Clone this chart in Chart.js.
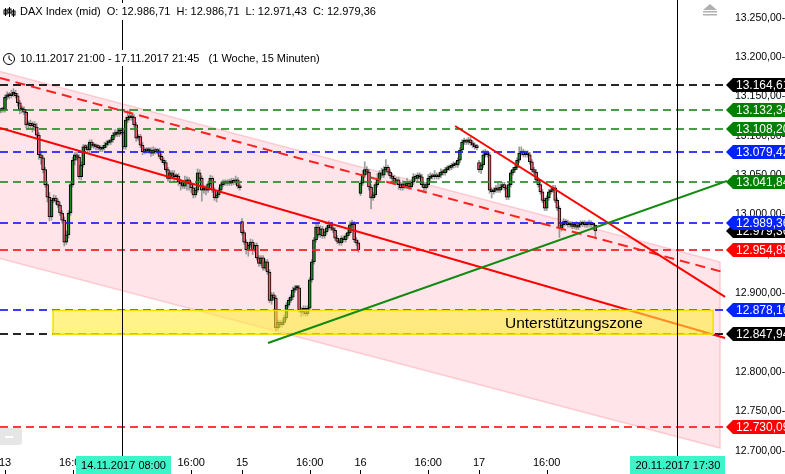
<!DOCTYPE html>
<html><head><meta charset="utf-8">
<script src="https://cdn.jsdelivr.net/npm/chart.js@4.4.0/dist/chart.umd.min.js"></script>
<style>html,body{margin:0;padding:0;background:#fff;overflow:hidden}</style>
</head><body><canvas id="c" width="785" height="474"></canvas>
<script>
// ---- DATA (15-min bars, index 0 = 10.11.2017 21:00) ----
const closes = [
13130,13132,13133,13133,
// 13.11
13149,13152,13151,13153,13154,13151,13142,13133,13134,13130,13114,13116,13113,13115,13111,13101,13076,13072,13057,13038,
13022,12997,13018,13021,13017,13012,13002,12993,12965,12974,13002,13038,13069,13076,13073,13048,13063,13086,13085,13082,
13092,13088,13087,13086,13085,13083,13085,13088,13091,13092,13095,13101,13104,13102,13107,13104,
// 14.11
13086,13120,13124,13123,13124,13114,13097,13099,13088,13080,13082,13081,13082,13078,13082,13080,13081,13074,13069,13066,
13057,13046,13053,13050,13048,13049,13041,13039,13036,13041,13044,13039,13034,13025,13031,13053,13046,13031,13034,13031,
13039,13046,13031,13021,13025,13031,13038,13041,13040,13041,13040,13043,13041,13044,13036,13034,
// 15.11
12977,12965,12955,12961,12965,12955,12961,12945,12938,12945,12932,12940,12927,12891,12898,12894,12856,12863,12860,12863,
12869,12885,12891,12895,12904,12907,12907,12879,12876,12881,12874,12881,12917,12940,12968,12984,12974,12982,12973,12978,
12983,12987,12983,12980,12970,12966,12964,12970,12968,12973,12977,12987,12988,12968,12964,12955,
// 16.11
13040,13050,13057,13054,13035,13021,13025,13038,13044,13053,13050,13057,13060,13054,13049,13046,13041,13044,13038,13034,
13039,13036,13040,13035,13041,13048,13046,13050,13048,13038,13034,13038,13046,13049,13048,13050,13048,13050,13054,13053,
13057,13059,13060,13062,13064,13063,13069,13082,13092,13093,13092,13095,13091,13088,13086,13085,
// 17.11
13057,13063,13076,13078,13076,13031,13029,13031,13034,13031,13035,13038,13034,13022,13038,13053,13057,13060,13069,13078,
13080,13076,13078,13076,13067,13057,13054,13044,13038,13029,13018,13008,13021,13029,13031,13034,13018,13008,12983,12987,
12991,12989,12987,12988,12985,12987,12984,12987,12988,12989,12987,12988,12989,12987,12986.71,12979.36
];
const gapIdx  = [0, 116, 172, 228];
const gapOpen = [13129, 12991, 13027, 13066];
const hiExt = [
3,3,2,3,
3,4,3,5,6,4,3,3,4,3,3,3,4,3,3,5,3,4,3,3,4,6,3,4,3,3,4,3,4,5,3,3,4,3,3,3,4,3,3,4,3,3,3,3,3,3,3,4,3,3,3,3,4,3,3,3,
3,4,8,10,4,3,3,3,3,4,3,3,3,3,4,3,3,3,3,3,3,3,3,3,6,3,3,3,3,8,4,3,3,3,4,5,4,3,3,3,3,4,3,3,3,3,3,3,3,3,4,3,3,5,3,3,
4,3,3,3,4,3,3,3,3,3,3,3,3,3,3,3,3,3,3,3,3,3,3,3,4,3,3,3,3,3,3,3,3,3,3,5,6,4,3,3,3,5,3,3,3,3,3,3,3,3,3,4,5,3,3,3,
3,6,10,4,3,3,3,3,8,3,6,4,10,3,3,3,4,3,3,3,4,3,6,3,3,4,3,3,3,3,3,3,5,4,3,6,3,3,4,3,3,3,3,3,3,3,3,3,3,4,3,3,3,3,3,3,
3,3,6,5,3,3,3,3,3,6,4,3,3,3,3,3,3,3,3,8,6,3,3,3,3,3,3,3,3,3,3,3,3,3,3,3,3,3,3,3,4,3,4,3,3,3,4,3,4,3,3,3,4,3,3,0
];
const loExt = [
3,3,3,3,
3,3,4,3,3,3,4,5,4,3,4,6,3,8,4,3,6,8,4,3,6,5,4,3,4,3,3,4,5,3,4,3,3,6,4,3,4,3,3,3,3,3,3,4,3,3,3,3,3,3,3,3,3,3,3,3,
3,3,3,3,3,3,4,3,3,4,3,3,3,4,3,3,3,3,3,3,3,4,3,5,6,3,4,8,3,3,10,8,6,4,3,3,3,14,4,6,3,3,3,3,5,3,3,3,3,3,3,3,3,3,3,3,
3,3,5,8,3,6,3,3,4,3,3,3,3,3,5,3,4,3,3,3,3,3,3,3,3,3,3,3,6,4,3,3,3,3,3,3,3,3,3,3,3,3,3,3,3,3,3,3,3,3,3,3,3,3,3,3,
3,3,3,3,4,14,3,3,3,3,3,3,3,3,3,4,3,3,6,3,3,3,3,3,3,3,3,3,3,3,6,3,3,3,3,3,3,3,3,3,3,3,3,3,3,3,3,3,3,3,3,3,3,3,3,3,
3,5,3,3,3,4,8,3,3,3,3,3,3,3,3,3,3,3,3,3,3,3,3,3,3,3,3,3,3,3,3,3,3,3,3,3,3,3,12,4,3,3,3,3,3,3,3,3,3,3,3,3,3,3,6,7.93
];
const xTickIdx  = [4, 36, 92, 116, 148, 172, 204, 228, 260];
const xTickText = ["13","16:00","16:00","15","16:00","16","16:00","17","16:00"];
const yTickVals = [12700,12750,12800,12850,12900,12950,13000,13050,13100,13150,13200,13250];
const hLineVals   = [13164.61,13132.34,13108.20,13079.42,13041.84,12989.36,12954.85,12878.16,12847.94,12730.09];
const hLineColors = ['#000','#2a8a2a','#2a8a2a','#1a1aff','#2a8a2a','#1a1aff','#ff1a1a','#1a1aff','#000','#ff1a1a'];
const tagVals   = [13164.61,13132.34,13108.20,13079.42,13041.84,12979.36,12989.36,12954.85,12878.16,12847.94,12730.09];
const tagColors = ['#000','#008000','#008000','#0022ff','#008000','#000','#0022ff','#ff0000','#0022ff','#000','#ff0000'];
const chanTop  = [[1.64,13182.4],[341.9,12939.7]];
const chanBot  = [[1.64,12944.8],[341.9,12703.4]];
const redDash  = [[1.64,13173.5],[342.8,12927.3]];
const redMid   = [[1.64,13110.0],[344.3,12843.2]];
const redShort = [[216.7,13112.5],[344.3,12895.3]];
const greenUp  = [[128.3,12836.8],[345.2,13042.6]];
const zoneX = [26.7, 338.6];
const zoneY = [12847.94, 12878.16];
const zoneLabel = "Unterstützungszone";
const markIdx  = [60, 322];
const markText = ["14.11.2017 08:00", "20.11.2017 17:30"];
const header1 = "DAX Index (mid)  O: 12.986,71  H: 12.986,71  L: 12.971,43  C: 12.979,36";
const header2 = "10.11.2017 21:00 - 17.11.2017 21:45   (1 Woche, 15 Minuten)";

// ---- build OHLC ----
const opens = closes.map((c,i)=>{ const g=gapIdx.indexOf(i); return g>=0 ? gapOpen[g] : closes[i-1]; });
const bodyData = closes.map((c,i)=>({x:i, y:[opens[i], c]}));
const wickData = closes.map((c,i)=>({x:i, y:[Math.min(opens[i],c)-loExt[i], Math.max(opens[i],c)+hiExt[i]]}));
const bodyColors = closes.map((c,i)=> c>=opens[i] ? '#1e8a24' : '#ef5f6f');

function fmtDE(v){ const [a,b]=v.toFixed(2).split('.'); return a.replace(/\B(?=(\d{3})+(?!\d))/g,'.')+','+b; }
const FONT = 'Arial, "Liberation Sans", sans-serif';
const noPad = s=>{ s.paddingTop=0; s.paddingBottom=0; s.paddingLeft=0; s.paddingRight=0; };

const overlay = {
  id:'overlay',
  beforeDatasetsDraw(chart){
    const {ctx, chartArea:a} = chart, xs=chart.scales.x, ys=chart.scales.y;
    const P = p=>[xs.getPixelForValue(p[0]), ys.getPixelForValue(p[1])];
    ctx.save(); ctx.beginPath(); ctx.rect(a.left,a.top,a.right-a.left,a.bottom-a.top); ctx.clip();
    const t0=P(chanTop[0]), t1=P(chanTop[1]), b0=P(chanBot[0]), b1=P(chanBot[1]);
    ctx.beginPath(); ctx.moveTo(t0[0]-2,t0[1]); ctx.lineTo(t1[0],t1[1]); ctx.lineTo(b1[0],b1[1]); ctx.lineTo(b0[0]-2,b0[1]); ctx.closePath();
    ctx.fillStyle='rgba(255,160,175,0.28)'; ctx.fill();
    ctx.strokeStyle='rgba(255,150,165,0.45)'; ctx.lineWidth=1.5;
    ctx.beginPath(); ctx.moveTo(t0[0]-2,t0[1]); ctx.lineTo(t1[0],t1[1]); ctx.lineTo(b1[0],b1[1]); ctx.lineTo(b0[0]-2,b0[1]); ctx.stroke();
    ctx.restore();
  },
  afterDraw(chart){
    const {ctx, chartArea:a} = chart, xs=chart.scales.x, ys=chart.scales.y;
    const P = p=>[xs.getPixelForValue(p[0]), ys.getPixelForValue(p[1])];
    const line=(seg,color,w,dash)=>{ const p0=P(seg[0]),p1=P(seg[1]); ctx.beginPath(); ctx.setLineDash(dash||[]); ctx.strokeStyle=color; ctx.lineWidth=w; ctx.moveTo(p0[0],p0[1]); ctx.lineTo(p1[0],p1[1]); ctx.stroke(); ctx.setLineDash([]); };
    ctx.save();
    ctx.beginPath(); ctx.rect(a.left,a.top,a.right-a.left,a.bottom-a.top); ctx.clip();
    hLineVals.forEach((v,k)=>{ const y=Math.round(ys.getPixelForValue(v)); ctx.globalAlpha=0.85; ctx.beginPath(); ctx.setLineDash([8,5]); ctx.strokeStyle=hLineColors[k]; ctx.lineWidth=2; ctx.moveTo(a.left,y); ctx.lineTo(a.right,y); ctx.stroke(); ctx.setLineDash([]); ctx.globalAlpha=1; });
    line(redDash,'#ff2020',2,[10,6]);
    line(redMid,'#ff0000',2);
    line(redShort,'#ff0000',2);
    const zx0=xs.getPixelForValue(zoneX[0]), zx1=xs.getPixelForValue(zoneX[1]);
    const zy0=ys.getPixelForValue(zoneY[1]), zy1=ys.getPixelForValue(zoneY[0]);
    ctx.fillStyle='rgba(255,235,60,0.6)'; ctx.fillRect(zx0,zy0,zx1-zx0,zy1-zy0);
    ctx.strokeStyle='#f2e000'; ctx.lineWidth=1.5; ctx.strokeRect(zx0,zy0,zx1-zx0,zy1-zy0);
    ctx.fillStyle='#000'; ctx.font='15.5px '+FONT; ctx.textBaseline='middle'; ctx.textAlign='left';
    ctx.fillText(zoneLabel, 505, (zy0+zy1)/2+1);
    line(greenUp,'#128a12',2);
    ctx.restore();
    ctx.save();
    markIdx.forEach(v=>{ const x=Math.round(xs.getPixelForValue(v))-0.5; ctx.beginPath(); ctx.strokeStyle='#000'; ctx.lineWidth=1; ctx.moveTo(x,0); ctx.lineTo(x,474); ctx.stroke(); });
    ctx.font='11px '+FONT; ctx.textBaseline='middle'; ctx.textAlign='left';
    const w1=ctx.measureText(header1).width, w2=ctx.measureText(header2).width;
    ctx.fillStyle='#fff'; ctx.fillRect(0,3,22+w1,17); ctx.fillRect(0,50,22+w2,16);
    ctx.fillStyle='#000'; ctx.fillText(header1,20,12); ctx.fillText(header2,20,59);
    ctx.strokeStyle='#000'; ctx.lineWidth=1;
    [[5,8,16],[9,7,17],[13,9,17]].forEach(([x,y0,y1])=>{ ctx.beginPath(); ctx.moveTo(x+0.5,y0); ctx.lineTo(x+0.5,y1); ctx.stroke(); ctx.strokeRect(x-1,y0+2,3,4); });
    ctx.beginPath(); ctx.arc(9,59,5.5,0,Math.PI*2); ctx.stroke();
    ctx.beginPath(); ctx.moveTo(9,55.5); ctx.lineTo(9,59); ctx.lineTo(12,61); ctx.stroke();
    ctx.font='12px '+FONT;
    tagVals.forEach((v,k)=>{ const y=Math.round(ys.getPixelForValue(v)); const L=a.right-1, R=785, h=7;
      ctx.fillStyle=tagColors[k]; ctx.beginPath(); ctx.moveTo(L,y); ctx.lineTo(L+7,y-h); ctx.lineTo(R,y-h); ctx.lineTo(R,y+h); ctx.lineTo(L+7,y+h); ctx.closePath(); ctx.fill();
      ctx.fillStyle='#fff'; ctx.fillText(fmtDE(v), L+10, y+0.5); });
    ctx.strokeStyle='#000'; ctx.lineWidth=1;
    xTickIdx.forEach(v=>{ const x=Math.round(xs.getPixelForValue(v))+0.5; ctx.beginPath(); ctx.moveTo(x,470); ctx.lineTo(x,474); ctx.stroke(); });
    ctx.font='11px '+FONT; ctx.textAlign='center';
    markIdx.forEach((v,k)=>{ const x=xs.getPixelForValue(v); const w=ctx.measureText(markText[k]).width+10;
      ctx.fillStyle='#3cf5c8'; ctx.fillRect(Math.round(x-w/2),456,Math.round(w),18);
      ctx.fillStyle='#000'; ctx.fillText(markText[k], x, 465.5); });
    ctx.fillStyle='#b0b0b0'; ctx.beginPath(); ctx.moveTo(703,10); ctx.lineTo(710,4); ctx.lineTo(717,10); ctx.closePath(); ctx.fill();
    ctx.fillRect(703,11,14,1.5); ctx.fillRect(703,14,14,1.5);
    ctx.fillStyle='#e6e6e6'; ctx.beginPath(); ctx.roundRect(-3,428,25,17,3); ctx.fill();
    ctx.fillStyle='#fff'; ctx.fillRect(5,436,8,2);
    ctx.restore();
  }
};

new Chart(document.getElementById('c'), {
  type:'bar',
  data:{ datasets:[
    { data: bodyData, backgroundColor: bodyColors, borderColor:'#000', borderWidth:1, borderSkipped:false, barThickness:3, grouped:false, minBarLength:2, order:0 },
    { data: wickData, backgroundColor:'#9a9a9a', borderWidth:0, barThickness:1, grouped:false, order:1 }
  ]},
  options:{
    responsive:false, animation:false, devicePixelRatio:1,
    layout:{ padding:0, autoPadding:false },
    plugins:{ legend:{display:false}, tooltip:{enabled:false} },
    scales:{
      x:{ type:'linear', min:1.64, max:345.2, offset:false,
          grid:{display:false, drawTicks:false}, border:{display:false},
          afterBuildTicks: s=>{ s.ticks = xTickIdx.map(v=>({value:v})); },
          afterFit: s=>{ s.height = 19; noPad(s); },
          ticks:{ autoSkip:false, maxRotation:0, padding:1, color:'#000', font:{family:FONT, size:11},
                  callback:(v)=>{ const k=xTickIdx.indexOf(v); return k>=0 ? xTickText[k] : ''; } } },
      y:{ position:'right', min:12694.5, max:13272.6,
          grid:{display:false, drawTicks:false}, border:{display:false},
          afterBuildTicks: s=>{ s.ticks = yTickVals.map(v=>({value:v})); },
          afterFit: s=>{ s.width = 58; noPad(s); },
          ticks:{ padding:8, color:'#000', font:{family:FONT, size:10.5}, callback:(v)=> fmtDE(v)+'-' } }
    }
  },
  plugins:[overlay]
});
</script></body></html>
